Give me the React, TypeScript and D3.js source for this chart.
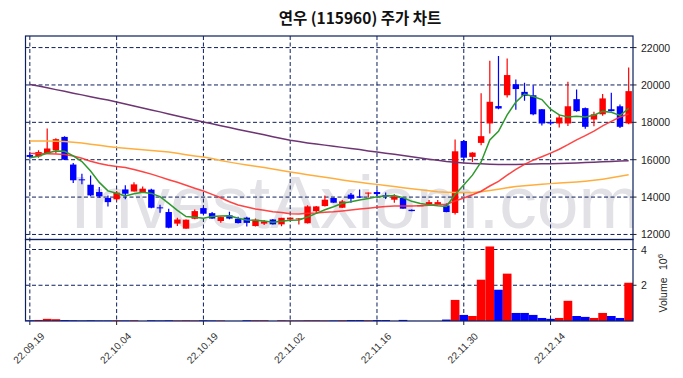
import React from "react";
import * as d3 from "d3";

const dates = [
  "22.09.19","22.09.20","22.09.21","22.09.22","22.09.23","22.09.26","22.09.27","22.09.28","22.09.29","22.09.30",
  "22.10.04","22.10.05","22.10.06","22.10.07","22.10.11","22.10.12","22.10.13","22.10.14","22.10.17","22.10.18",
  "22.10.19","22.10.20","22.10.21","22.10.24","22.10.25","22.10.26","22.10.27","22.10.28","22.10.31","22.11.01",
  "22.11.02","22.11.03","22.11.04","22.11.07","22.11.08","22.11.09","22.11.10","22.11.11","22.11.14","22.11.15",
  "22.11.16","22.11.17","22.11.18","22.11.21","22.11.22","22.11.23","22.11.24","22.11.25","22.11.28","22.11.29",
  "22.11.30","22.12.01","22.12.02","22.12.05","22.12.06","22.12.07","22.12.08","22.12.09","22.12.12","22.12.13",
  "22.12.14","22.12.15","22.12.16","22.12.19","22.12.20","22.12.21","22.12.22","22.12.23","22.12.26","22.12.27",
];

const opens = [
  16250,16180,16330,16500,17220,15740,14950,14660,14270,13950,
  13880,14410,14300,14270,14400,13450,13200,12580,12310,12840,
  13410,13140,12720,13020,12840,12900,12450,12580,12800,12540,
  12800,12840,12600,13240,13520,13950,13430,14130,14030,14220,
  14270,14100,13860,13950,13320,13540,13610,13610,13550,13150,
  17000,16150,16900,17940,18870,19450,20040,19630,19450,18700,
  18010,17940,17940,19240,18760,18150,18430,18700,18860,17940,
];
const highs = [
  16420,16500,17670,17150,17250,15830,15250,15160,14540,14090,
  14320,14630,14800,14560,14450,13590,13380,12900,12800,13340,
  13500,13200,12960,13220,12950,12950,12850,12780,12830,12900,
  12920,12870,13560,13520,14090,13960,13850,14220,14400,14240,
  14400,14250,14150,13960,13330,13580,13850,13850,13650,17080,
  17050,16400,19550,21300,21550,21420,20290,20115,19990,18720,
  18150,18400,20170,19760,18800,18560,19510,19580,18950,20940,
];
const lows = [
  16060,16110,16300,16330,15980,14750,14680,14050,13970,13500,
  13820,13880,14300,14260,13400,13160,12330,12450,12300,12820,
  13080,12840,12620,12820,12580,12430,12420,12500,12530,12440,
  12800,12530,12580,13110,13500,13690,13420,13700,13950,13980,
  13980,13900,13700,13370,13240,13520,13600,13600,13190,13070,
  15970,15880,16770,17400,18700,19330,18680,19150,18380,17830,
  17850,17720,17800,18560,17650,17790,18350,18580,17700,17900,
];
const closes = [
  16150,16410,16600,17100,16000,14900,14900,14090,14040,13730,
  14240,14180,14680,14450,13430,13400,12360,12800,12790,13250,
  13110,12850,12930,12850,12610,12620,12790,12700,12540,12890,
  12900,12860,13500,13500,13860,13700,13770,13910,13980,14240,
  14160,14030,14040,13380,13250,13560,13730,13730,13200,16450,
  16110,16380,17260,19100,18740,20530,19780,19420,18430,17940,
  17940,18260,18860,18600,17760,18430,19280,18600,17760,19670,
];
// volume in millions of shares
const volumes = [
  0.04,0.06,0.12,0.10,0.05,0.04,0.03,0.04,0.03,0.03,
  0.04,0.03,0.04,0.005,0.04,0.03,0.04,0.03,0.04,0.03,
  0.04,0.03,0.03,0.005,0.005,0.04,0.04,0.04,0.005,0.04,
  0.03,0.03,0.04,0.04,0.03,0.03,0.04,0.05,0.05,0.04,
  0.05,0.05,0.005,0.06,0.005,0.005,0.005,0.005,0.08,1.18,
  0.34,0.28,2.31,4.17,1.75,2.65,0.45,0.45,0.34,0.17,
  0.12,0.17,1.13,0.28,0.23,0.17,0.45,0.28,0.17,2.14,
];
const ma5 = [
  16110,16180,16360,16470,16452,16202,15900,15398,14786,14332,
  14200,14056,14174,14256,14196,14028,13664,13288,12956,12920,
  12862,12960,12986,12998,12870,12772,12760,12714,12652,12708,
  12764,12778,12938,13130,13324,13484,13666,13748,13844,13920,
  14012,14064,14090,13970,13772,13652,13592,13530,13494,14134,
  14644,15174,15880,17060,17518,18402,19082,19514,19380,19220,
  18702,18398,18286,18320,18284,18382,18586,18534,18366,18748,
];
const ma20 = [
  16330,16330,16320,16300,16280,16200,16080,15920,15800,15700,
  15640,15580,15480,15360,15230,15080,14930,14790,14630,14475,
  14323,14145,13962,13749,13580,13466,13360,13291,13216,13174,
  13107,13100,13130,13150,13185,13210,13260,13306,13356,13405,
  13458,13497,13523,13519,13521,13538,13565,13597,13620,13788,
  13948,14124,14312,14592,14836,15178,15478,15754,15976,16161,
  16350,16562,16803,17064,17289,17533,17810,18054,18282,18443,
];
const ma60 = [
  17000,17000,16995,16990,16980,16940,16890,16830,16770,16710,
  16650,16610,16570,16530,16490,16450,16410,16340,16270,16200,
  16140,16060,15960,15870,15790,15720,15650,15580,15500,15420,
  15340,15270,15200,15130,15060,14990,14920,14850,14790,14730,
  14680,14620,14560,14500,14440,14390,14340,14290,14260,14240,
  14240,14250,14290,14350,14420,14500,14560,14610,14650,14690,
  14720,14750,14780,14810,14850,14900,14960,15030,15110,15190,
];
const ma120 = [
  20030,19940,19850,19750,19660,19560,19470,19370,19280,19190,
  19090,18980,18870,18770,18660,18560,18450,18340,18230,18130,
  18020,17920,17820,17720,17620,17520,17430,17330,17230,17130,
  17040,16970,16900,16840,16780,16720,16660,16600,16540,16470,
  16410,16350,16290,16220,16160,16090,16030,15970,15900,15860,
  15830,15800,15780,15760,15750,15750,15750,15760,15770,15780,
  15790,15800,15810,15830,15850,15870,15890,15910,15930,15950,
];
const priceTicks = [12000, 14000, 16000, 18000, 20000, 22000];
const volumeTicks = [2, 4];
const xTickEvery = 10;
const title = "연우 (115960) 주가 차트";

const W = 683;
const H = 378;
const L = 25.5;
const R = 633;
const PT = 36;
const PB = 239.5;
const VB = 321;

const GRID = "#0d1f5c";
const UP = "#ff0000";
const DOWN = "#0000ff";

export default function App() {
  const n = closes.length;
  const x = d3.scaleLinear().domain([-0.5, n - 0.5]).range([L, R]);
  const y = d3.scaleLinear().domain([11730, 22620]).range([PB, PT]);
  const yv = d3.scaleLinear().domain([0, 4.56]).range([VB, PB]);
  const step = x(1) - x(0);
  const bodyW = step * 0.74;

  const lineGen = d3
    .line<number>()
    .x((_, i) => x(i))
    .y((d) => y(d))
    .curve(d3.curveLinear);

  const xTicks = d3.range(0, n, xTickEvery);
  const font = "'Liberation Sans', Arial, sans-serif";

  return (
    <svg
      width={W}
      height={H}
      style={{ position: "absolute", left: 0, top: 0, background: "#fff" }}
    >
      <defs>
        <clipPath id="pclip">
          <rect x={L} y={PT} width={R - L} height={PB - PT} />
        </clipPath>
        <clipPath id="vclip">
          <rect x={L} y={PB} width={R - L} height={VB - PB} />
        </clipPath>
      </defs>

      <text
        x={360}
        y={24}
        textAnchor="middle"
        fontFamily="'Noto Sans CJK KR', sans-serif"
        fontSize={15.5}
        fontWeight="bold"
        fill="#111"
      >
        {title}
      </text>

      {/* watermark */}
      <g clipPath="url(#pclip)">
        <text
          x={70}
          y={228}
          fontFamily={font}
          fontSize={75}
          fill="#e1e1e6"
        >
          InvestAxiom.com
        </text>
      </g>

      {/* grid */}
      {priceTicks.map((t) => (
        <line
          key={"pg" + t}
          x1={L}
          x2={R}
          y1={y(t)}
          y2={y(t)}
          stroke={GRID}
          strokeWidth={1}
          strokeDasharray="4,2.5"
        />
      ))}
      {volumeTicks.map((t) => (
        <line
          key={"vg" + t}
          x1={L}
          x2={R}
          y1={yv(t)}
          y2={yv(t)}
          stroke={GRID}
          strokeWidth={1}
          strokeDasharray="4,2.5"
        />
      ))}
      {xTicks.map((i) => (
        <line
          key={"xg" + i}
          x1={x(i)}
          x2={x(i)}
          y1={PT}
          y2={VB}
          stroke={GRID}
          strokeWidth={1}
          strokeDasharray="4,2.5"
        />
      ))}

      {/* volume bars */}
      <g clipPath="url(#vclip)">
        {volumes.map((v, i) => (
          <rect
            key={"v" + i}
            x={x(i) - step / 2}
            y={yv(v)}
            width={step}
            height={VB - yv(v)}
            fill={closes[i] >= opens[i] ? UP : DOWN}
          />
        ))}
      </g>

      {/* candles */}
      <g clipPath="url(#pclip)">
        {closes.map((c, i) => {
          const o = opens[i];
          const col = c >= o ? UP : DOWN;
          const top = y(Math.max(o, c));
          const bot = y(Math.min(o, c));
          return (
            <g key={"c" + i}>
              <line
                x1={x(i)}
                x2={x(i)}
                y1={y(highs[i])}
                y2={y(lows[i])}
                stroke={col}
                strokeWidth={1.2}
              />
              <rect
                x={x(i) - bodyW / 2}
                y={top}
                width={bodyW}
                height={Math.max(1, bot - top)}
                fill={col}
              />
            </g>
          );
        })}
        <path d={lineGen(ma120) || ""} fill="none" stroke="#6e3573" strokeWidth={1.5} />
        <path d={lineGen(ma60) || ""} fill="none" stroke="#ffae3d" strokeWidth={1.5} />
        <path d={lineGen(ma20) || ""} fill="none" stroke="#ff3030" strokeOpacity={0.9} strokeWidth={1.5} />
        <path d={lineGen(ma5) || ""} fill="none" stroke="#2e9a2e" strokeWidth={1.5} />
      </g>

      {/* frames */}
      <rect x={L} y={PT} width={R - L} height={PB - PT} fill="none" stroke={GRID} strokeWidth={1.2} />
      <rect x={L} y={PB} width={R - L} height={VB - PB} fill="none" stroke={GRID} strokeWidth={1.2} />

      {/* right axis price */}
      {priceTicks.map((t) => (
        <g key={"pt" + t}>
          <line x1={R} x2={R + 3.5} y1={y(t)} y2={y(t)} stroke="#222" strokeWidth={1} />
          <text
            x={R + 8}
            y={y(t)}
            dominantBaseline="central"
            fontFamily={font}
            fontSize={10.5}
            fill="#222"
          >
            {t}
          </text>
        </g>
      ))}
      {volumeTicks.map((t) => (
        <g key={"vt" + t}>
          <line x1={R} x2={R + 3.5} y1={yv(t)} y2={yv(t)} stroke="#222" strokeWidth={1} />
          <text
            x={R + 8}
            y={yv(t)}
            dominantBaseline="central"
            fontFamily={font}
            fontSize={10.5}
            fill="#222"
          >
            {t}
          </text>
        </g>
      ))}
      <g transform="translate(667,295) rotate(-90)">
        <text x={0} y={0} textAnchor="middle" fontFamily={font} fontSize={10.5} fill="#222">
          Volume
        </text>
      </g>
      <g transform="translate(667,270) rotate(-90)">
        <text x={0} y={0} textAnchor="start" fontFamily={font} fontSize={10.5} fill="#222">
          10
          <tspan fontSize={8} dy={-4}>6</tspan>
        </text>
      </g>

      {/* x axis */}
      {xTicks.map((i) => (
        <g key={"xt" + i}>
          <line x1={x(i)} x2={x(i)} y1={VB} y2={VB + 4} stroke="#222" strokeWidth={1} />
          <text
            transform={`translate(${x(i) - 1},${348}) rotate(-45)`}
            textAnchor="middle"
            dominantBaseline="central"
            fontFamily={font}
            fontSize={10}
            fill="#333"
          >
            {dates[i]}
          </text>
        </g>
      ))}
    </svg>
  );
}
